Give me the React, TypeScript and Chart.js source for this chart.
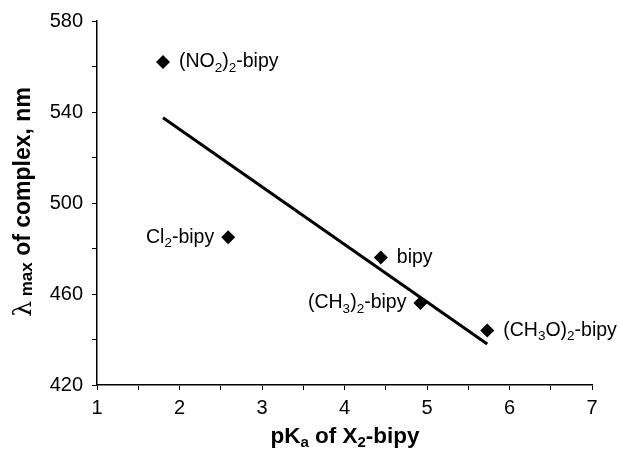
import React, { useEffect, useRef } from "react";
import { Chart, registerables } from "chart.js";

Chart.register(...registerables);

const pKa = [1.8, 2.59, 4.44, 4.92, 5.73];
const lambdaMax = [562, 485, 476, 456, 444];
const pointLabels = ["(NO_2)_2-bipy", "Cl_2-bipy", "bipy", "(CH_3)_2-bipy", "(CH_3O)_2-bipy"];
const labelSide = ["right", "left", "right", "left", "right"];
const fitX = [1.8, 5.73];
const fitY = [537.5, 438];

const FONT = "'Liberation Sans', Arial, Helvetica, sans-serif";

type Seg = { text: string; sub: boolean; font?: string };

function parse(s: string): Seg[] {
  const segs: Seg[] = [];
  let cur = "";
  for (let i = 0; i < s.length; i++) {
    if (s[i] === "_" && i + 1 < s.length) {
      if (cur) segs.push({ text: cur, sub: false });
      cur = "";
      segs.push({ text: s[i + 1], sub: true });
      i++;
    } else cur += s[i];
  }
  if (cur) segs.push({ text: cur, sub: false });
  return segs;
}

function drawSegs(
  ctx: CanvasRenderingContext2D,
  segs: Seg[],
  x: number,
  y: number,
  align: "left" | "center" | "right",
  mainFont: string,
  subFont: string,
  subOffset: number
) {
  ctx.textAlign = "left";
  ctx.textBaseline = "middle";
  let total = 0;
  const widths = segs.map((s) => {
    ctx.font = s.font || (s.sub ? subFont : mainFont);
    const w = ctx.measureText(s.text).width;
    total += w;
    return w;
  });
  let cx = align === "left" ? x : align === "right" ? x - total : x - total / 2;
  segs.forEach((s, i) => {
    ctx.font = s.font || (s.sub ? subFont : mainFont);
    ctx.fillText(s.text, cx, s.sub ? y + subOffset : y);
    cx += widths[i];
  });
}

const annotate = {
  id: "annotate",
  afterDatasetsDraw(chart: any) {
    const ctx: CanvasRenderingContext2D = chart.ctx;
    const xs = chart.scales.x;
    const ys = chart.scales.y;
    ctx.save();
    ctx.fillStyle = "#000";
    pointLabels.forEach((lab, i) => {
      const px = xs.getPixelForValue(pKa[i]);
      const py = ys.getPixelForValue(lambdaMax[i]);
      const right = labelSide[i] === "right";
      drawSegs(
        ctx,
        parse(lab),
        right ? px + 16 : px - 14,
        py,
        right ? "left" : "right",
        `19.5px ${FONT}`,
        `13.5px ${FONT}`,
        6
      );
    });
    drawSegs(
      ctx,
      [
        { text: "pK", sub: false },
        { text: "a", sub: true },
        { text: " of X", sub: false },
        { text: "2", sub: true },
        { text: "-bipy", sub: false },
      ],
      345,
      437,
      "center",
      `bold 22.5px ${FONT}`,
      `bold 15px ${FONT}`,
      6
    );
    ctx.translate(24, 202);
    ctx.rotate(-Math.PI / 2);
    drawSegs(
      ctx,
      [
        { text: "λ", sub: false, font: `25px 'DejaVu Serif', serif` },
        { text: " max", sub: true },
        { text: " of complex, nm", sub: false },
      ],
      0,
      0,
      "center",
      `bold 23px ${FONT}`,
      `bold 17px ${FONT}`,
      3
    );
    ctx.restore();
  },
};

export default function App() {
  const ref = useRef<HTMLCanvasElement>(null);
  useEffect(() => {
    if (!ref.current) return;
    const chart = new Chart(ref.current, {
      type: "scatter",
      data: {
        datasets: [
          {
            type: "line",
            data: fitX.map((x, i) => ({ x, y: fitY[i] })),
            borderColor: "#000",
            borderWidth: 3,
            pointRadius: 0,
            fill: false,
            order: 2,
          } as any,
          {
            data: pKa.map((x, i) => ({ x, y: lambdaMax[i] })),
            pointStyle: "rectRot",
            pointRadius: 7,
            backgroundColor: "#000",
            borderColor: "#000",
            borderWidth: 0,
            order: 1,
          },
        ],
      },
      options: {
        responsive: false,
        animation: false,
        layout: { padding: { top: 21, right: 28, left: 0, bottom: 0 } },
        plugins: { legend: { display: false }, tooltip: { enabled: false } },
        scales: {
          x: {
            type: "linear",
            min: 1,
            max: 7,
            border: { display: true, color: "#000", width: 1.5 },
            grid: { display: true, drawOnChartArea: false, drawTicks: true, tickLength: 5, color: "#000", lineWidth: 1 },
            ticks: {
              stepSize: 0.5,
              autoSkip: false,
              maxRotation: 0,
              color: "#000",
              padding: 6,
              font: { family: FONT, size: 20 },
              callback: (v: any) => (Number.isInteger(Number(v)) ? String(v) : ""),
            },
            afterFit: (s: any) => {
              s.height = 67;
            },
          },
          y: {
            type: "linear",
            min: 420,
            max: 580,
            border: { display: true, color: "#000", width: 1.5 },
            grid: { display: true, drawOnChartArea: false, drawTicks: true, tickLength: 5, color: "#000", lineWidth: 1 },
            ticks: {
              stepSize: 20,
              autoSkip: false,
              color: "#000",
              padding: 9,
              font: { family: FONT, size: 20 },
              callback: (v: any) => ((Number(v) - 420) % 40 === 0 ? String(v) : ""),
            },
            afterFit: (s: any) => {
              s.width = 97;
            },
          },
        },
      },
      plugins: [annotate],
    });
    return () => chart.destroy();
  }, []);
  return (
    <div style={{ position: "absolute", left: 0, top: 0, width: 620, height: 452, background: "#fff" }}>
      <canvas ref={ref} width={620} height={452} />
    </div>
  );
}
